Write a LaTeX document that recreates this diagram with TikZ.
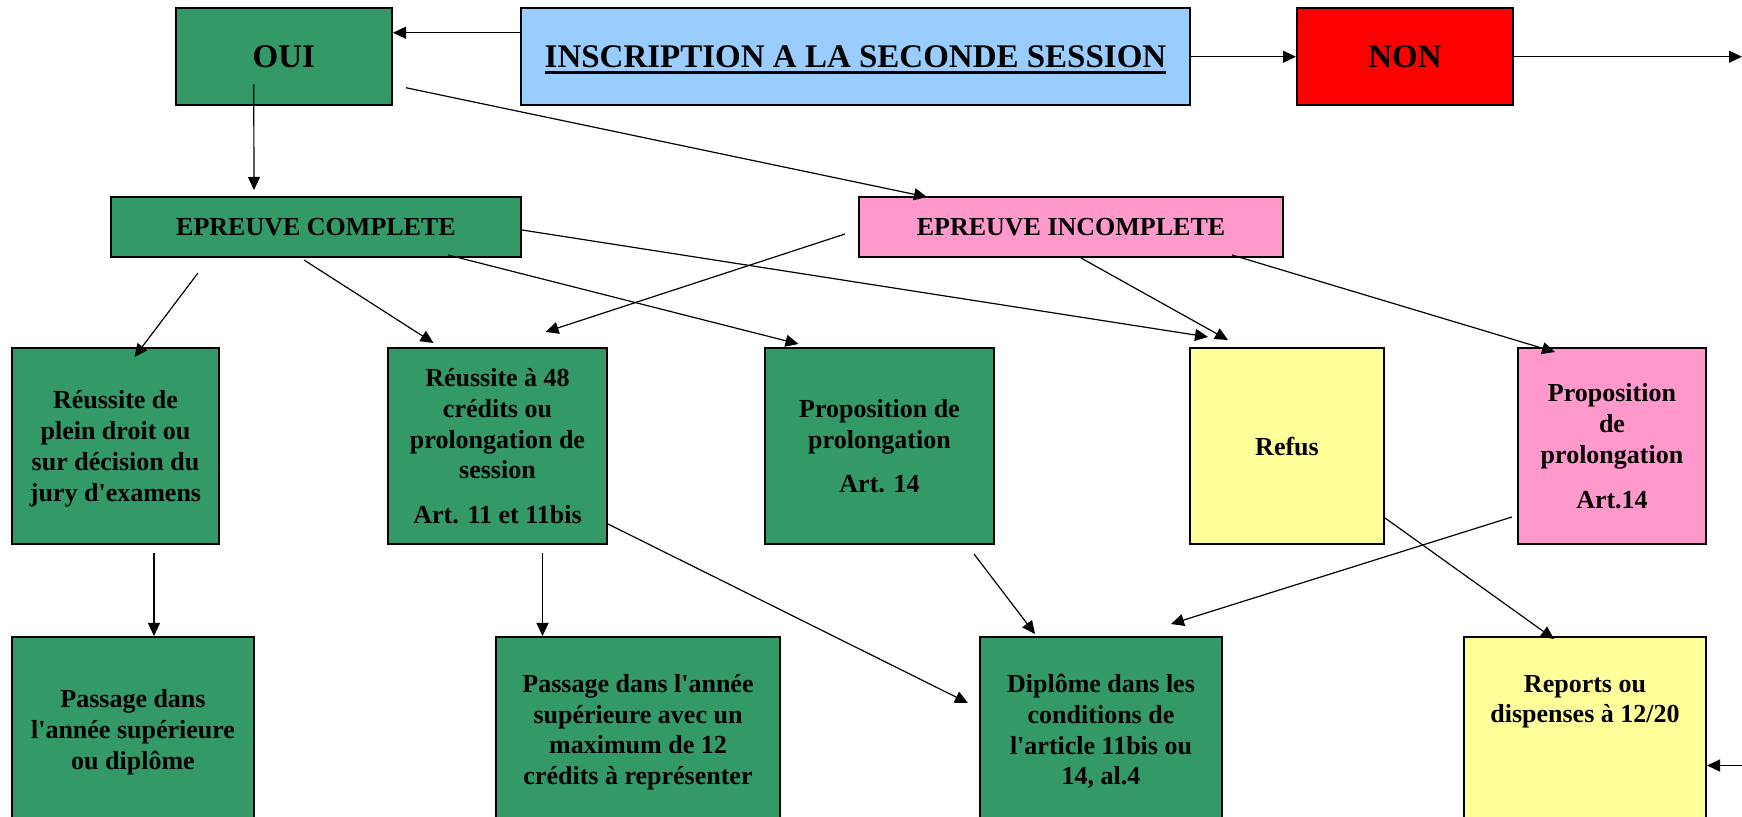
\documentclass[tikz,border=0pt]{standalone}
\usepackage{fontspec}
\setmainfont{Liberation Serif}
\usetikzlibrary{arrows.meta}

\definecolor{okgreen}{HTML}{339966}
\definecolor{inscrblue}{HTML}{99CCFF}
\definecolor{nonred}{HTML}{FF0000}
\definecolor{incpink}{HTML}{FF99CC}
\definecolor{refyellow}{HTML}{FFFF99}
\newcommand{\thickul}[1]{\vtop{\hbox{#1}\kern1.4pt\hrule height 1.4pt}}

\begin{document}
\begin{tikzpicture}[x=0.5pt, y=-0.5pt,
    box/.style={draw, line width=1pt, inner sep=0pt, align=center, text depth=0pt,
        font=\bfseries\fontsize{13}{15.4}\selectfont},
    bigbox/.style={box, minimum height=48.75pt, font=\bfseries\fontsize{16.5}{19}\selectfont},
    midbox/.style={box, minimum height=30pt},
    tallbox/.style={box, minimum height=98pt},
    lowbox/.style={box, minimum height=92.5pt},
    txt/.style={align=center, inner sep=0pt, text depth=0pt, font=\bfseries\fontsize{13}{15.4}\selectfont},
    arr/.style={-{Triangle[length=6.5pt,width=6pt]}, line width=0.6pt}]
    \clip (0,0) rectangle (1742,817);
    % Top row
    \node[bigbox, fill=okgreen, minimum width=108.25pt] (oui) at (283.75,56.75) {OUI};
    \node[bigbox, fill=inscrblue, minimum width=334.5pt] (inscr) at (855.5,56.75)
        {\thickul{INSCRIPTION A LA SECONDE SESSION}};
    \node[bigbox, fill=nonred, minimum width=108pt] (non) at (1405,56.75) {NON};
    \coordinate (outnon) at (1742,56.75);
    % Second row
    \node[midbox, fill=okgreen, minimum width=205pt] (ec) at (316,227) {EPREUVE COMPLETE};
    \node[midbox, fill=incpink, minimum width=212pt] (ei) at (1071,227) {EPREUVE INCOMPLETE};
    % Third row
    \node[tallbox, fill=okgreen, minimum width=103.5pt] (r1) at (115.5,446)
        {R\'eussite de\\plein droit ou\\sur d\'ecision du\\jury d\textquotesingle examens};
    \node[tallbox, fill=okgreen, minimum width=109.5pt] (r2) at (497.5,446)
        {R\'eussite \`a 48\\cr\'edits ou\\prolongation de\\session\\[7pt]Art. 11 et 11bis};
    \node[tallbox, fill=okgreen, minimum width=114.5pt] (r3) at (879.5,446)
        {Proposition de\\prolongation\\[7pt]Art. 14};
    \node[tallbox, fill=refyellow, minimum width=97pt] (refus) at (1287,446) {Refus};
    \node[tallbox, fill=incpink, minimum width=94pt] (r5) at (1612,446)
        {Proposition\\de\\prolongation\\[7pt]Art.14};
    % Last row
    \node[lowbox, fill=okgreen, minimum width=121pt] (p1) at (133,729.5)
        {Passage dans\\l\textquotesingle ann\'ee sup\'erieure\\ou dipl\^ome};
    \node[lowbox, fill=okgreen, minimum width=142pt] (p2) at (638,729.5)
        {Passage dans l\textquotesingle ann\'ee\\sup\'erieure avec un\\maximum de 12\\cr\'edits \`a repr\'esenter};
    \node[lowbox, fill=okgreen, minimum width=121pt] (dipl) at (1101,729.5)
        {Dipl\^ome dans les\\conditions de\\l\textquotesingle article 11bis ou\\14, al.4};
    \node[lowbox, fill=refyellow, minimum width=121pt] (reports) at (1585,729.5) {};
    \node[txt] (reportstxt) at (1585,699) {Reports ou\\dispenses \`a 12/20};
    \coordinate (inrep) at (1742,765.5);
    % Arrows from the registration box
    \draw[arr] ([shift={(0,-24)}]inscr.west) -- ([shift={(0,-24)}]oui.east);
    \draw[arr] (inscr.east) -- (non.west);
    \draw[arr] (non.east) -- (outnon);
    % Arrows from OUI
    \draw[arr] ([shift={(-30,-22)}]oui.south) -- ([shift={(-62,-6)}]ec.north);
    \draw[arr] ([shift={(13,31)}]oui.east) -- ([shift={(-144,1)}]ei.north);
    % Arrows from EPREUVE COMPLETE
    \draw[arr] ([shift={(-118,15)}]ec.south) -- ([shift={(19,10)}]r1.north);
    \draw[arr] ([shift={(-12,2)}]ec.south) -- ([shift={(-64,-4)}]r2.north);
    \draw[arr] ([shift={(132,-3)}]ec.south) -- ([shift={(-81,-3)}]r3.north);
    \draw[arr] ([shift={(0,3)}]ec.east) -- ([shift={(-79,-10)}]refus.north);
    % Arrows from EPREUVE INCOMPLETE
    \draw[arr] ([shift={(-13,7)}]ei.west) -- ([shift={(48,-15)}]r2.north);
    \draw[arr] ([shift={(10,0)}]ei.south) -- ([shift={(-59,-7)}]refus.north);
    \draw[arr] ([shift={(161,-3)}]ei.south) -- ([shift={(-57,5)}]r5.north);
    % Arrows to the last row
    \draw[arr] ([shift={(38.5,8)}]r1.south) -- ([shift={(21,0)}]p1.north);
    \draw[arr] ([shift={(45,8)}]r2.south) -- ([shift={(-95.5,0)}]p2.north);
    \draw[arr] ([shift={(0,78)}]r2.east) -- ([shift={(-11,-26.5)}]dipl.west);
    \draw[arr] ([shift={(94.5,9)}]r3.south) -- ([shift={(-66,-2)}]dipl.north);
    \draw[arr] ([shift={(-5,71)}]r5.west) -- ([shift={(70,-12)}]dipl.north);
    \draw[arr] ([shift={(0,72)}]refus.east) -- ([shift={(-31,3)}]reports.north);
    \draw[arr] (inrep) -- ([shift={(0,36)}]reports.east);
\end{tikzpicture}
\end{document}
